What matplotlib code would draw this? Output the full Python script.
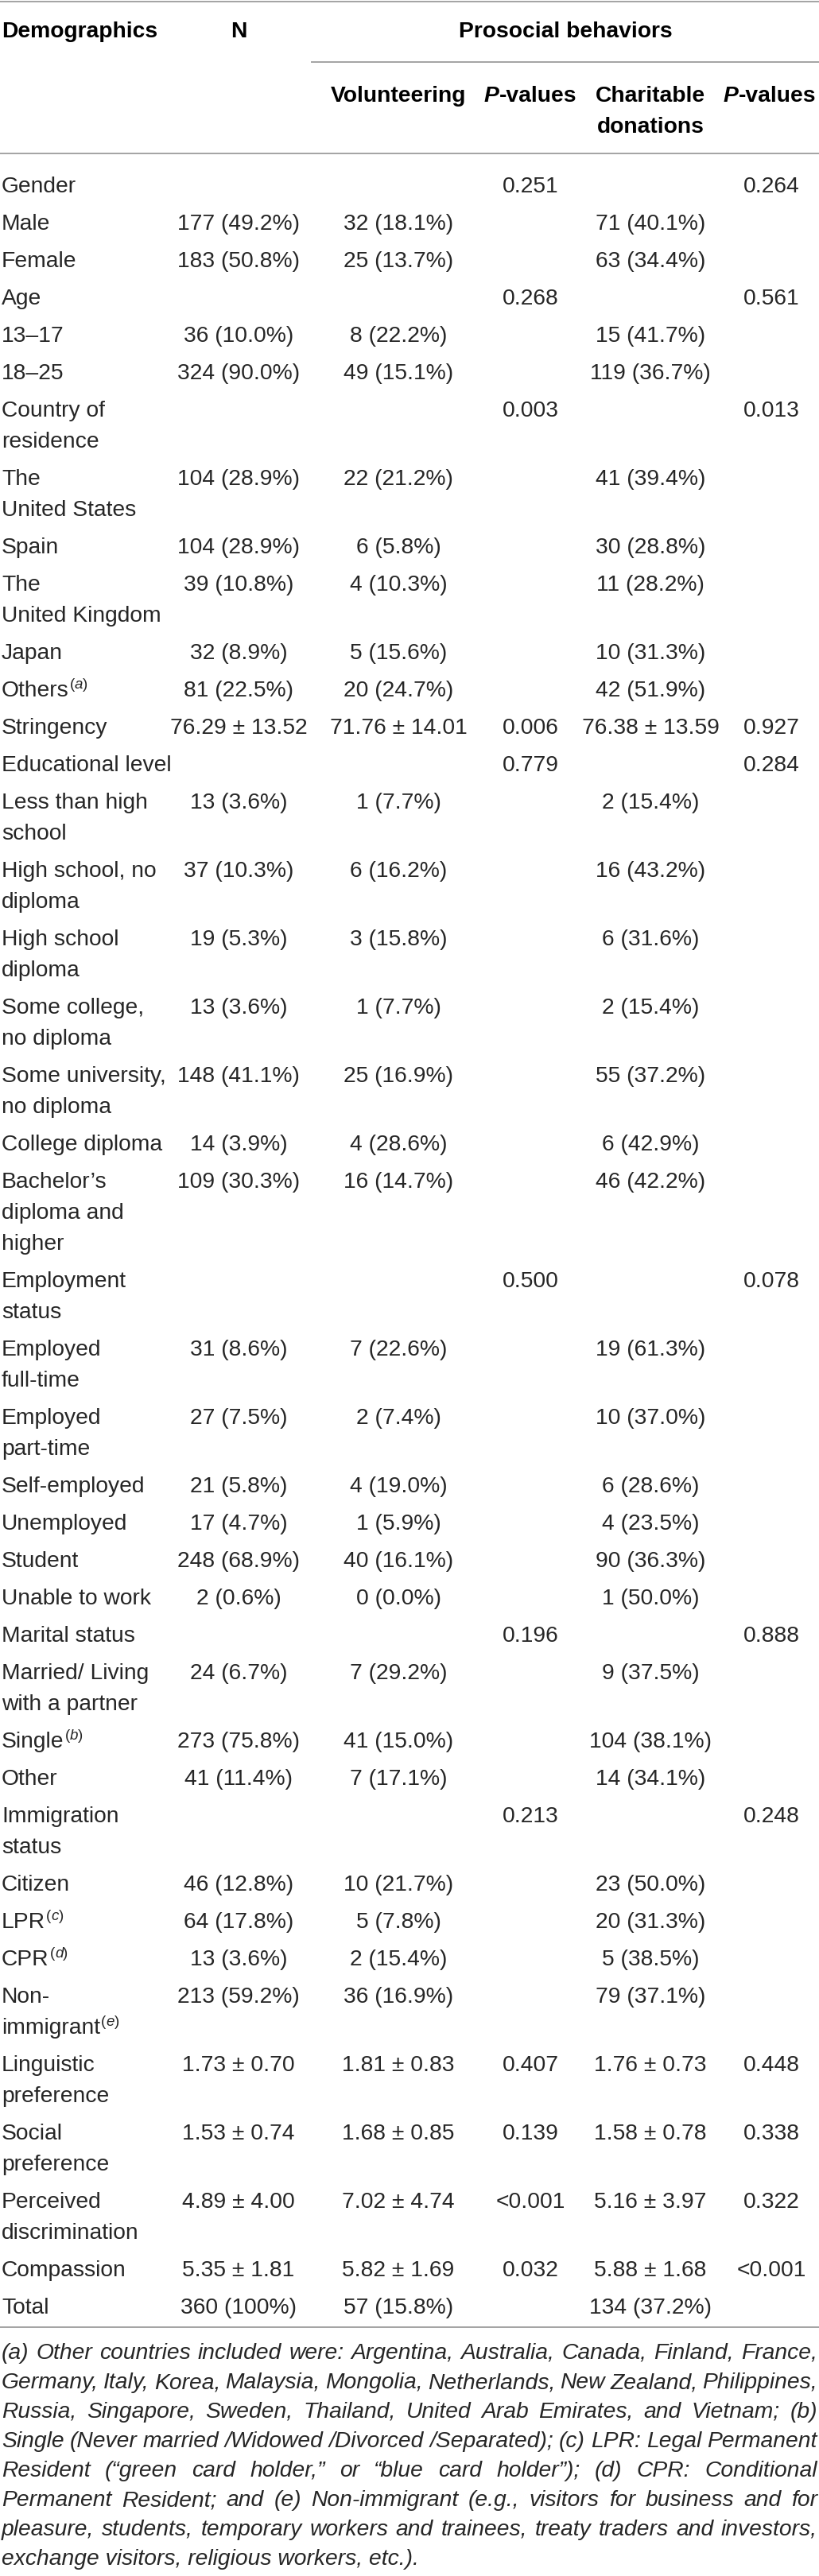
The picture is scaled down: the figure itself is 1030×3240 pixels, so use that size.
import matplotlib
matplotlib.use("Agg")
import matplotlib.pyplot as plt

plt.rcParams['font.family'] = ['Liberation Sans', 'DejaVu Sans']

# ---- table data ----
demographics = [
    "Gender", "Male", "Female", "Age", "13–17", "18–25",
    "Country of\nresidence", "The\nUnited States", "Spain", "The\nUnited Kingdom",
    "Japan", "Others", "Stringency", "Educational level",
    "Less than high\nschool", "High school, no\ndiploma", "High school\ndiploma",
    "Some college,\nno diploma", "Some university,\nno diploma", "College diploma",
    "Bachelor’s\ndiploma and\nhigher", "Employment\nstatus", "Employed\nfull-time",
    "Employed\npart-time", "Self-employed", "Unemployed", "Student", "Unable to work",
    "Marital status", "Married/ Living\nwith a partner", "Single", "Other",
    "Immigration\nstatus", "Citizen", "LPR", "CPR", "Non-\nimmigrant",
    "Linguistic\npreference", "Social\npreference", "Perceived\ndiscrimination",
    "Compassion", "Total",
]
note_marks = {"Others": "a", "Single": "b", "LPR": "c", "CPR": "d",
              "Non-\nimmigrant": "e"}
n_counts = [
    "", "177 (49.2%)", "183 (50.8%)", "", "36 (10.0%)", "324 (90.0%)",
    "", "104 (28.9%)", "104 (28.9%)", "39 (10.8%)", "32 (8.9%)", "81 (22.5%)",
    "76.29 ± 13.52", "", "13 (3.6%)", "37 (10.3%)", "19 (5.3%)", "13 (3.6%)",
    "148 (41.1%)", "14 (3.9%)", "109 (30.3%)", "", "31 (8.6%)", "27 (7.5%)",
    "21 (5.8%)", "17 (4.7%)", "248 (68.9%)", "2 (0.6%)", "", "24 (6.7%)",
    "273 (75.8%)", "41 (11.4%)", "", "46 (12.8%)", "64 (17.8%)", "13 (3.6%)",
    "213 (59.2%)", "1.73 ± 0.70", "1.53 ± 0.74", "4.89 ± 4.00", "5.35 ± 1.81",
    "360 (100%)",
]
volunteering = [
    "", "32 (18.1%)", "25 (13.7%)", "", "8 (22.2%)", "49 (15.1%)",
    "", "22 (21.2%)", "6 (5.8%)", "4 (10.3%)", "5 (15.6%)", "20 (24.7%)",
    "71.76 ± 14.01", "", "1 (7.7%)", "6 (16.2%)", "3 (15.8%)", "1 (7.7%)",
    "25 (16.9%)", "4 (28.6%)", "16 (14.7%)", "", "7 (22.6%)", "2 (7.4%)",
    "4 (19.0%)", "1 (5.9%)", "40 (16.1%)", "0 (0.0%)", "", "7 (29.2%)",
    "41 (15.0%)", "7 (17.1%)", "", "10 (21.7%)", "5 (7.8%)", "2 (15.4%)",
    "36 (16.9%)", "1.81 ± 0.83", "1.68 ± 0.85", "7.02 ± 4.74", "5.82 ± 1.69",
    "57 (15.8%)",
]
vol_pvalues = [
    "0.251", "", "", "0.268", "", "", "0.003", "", "", "", "", "",
    "0.006", "0.779", "", "", "", "", "", "", "", "0.500", "", "",
    "", "", "", "", "0.196", "", "", "", "0.213", "", "", "",
    "", "0.407", "0.139", "<0.001", "0.032", "",
]
donations = [
    "", "71 (40.1%)", "63 (34.4%)", "", "15 (41.7%)", "119 (36.7%)",
    "", "41 (39.4%)", "30 (28.8%)", "11 (28.2%)", "10 (31.3%)", "42 (51.9%)",
    "76.38 ± 13.59", "", "2 (15.4%)", "16 (43.2%)", "6 (31.6%)", "2 (15.4%)",
    "55 (37.2%)", "6 (42.9%)", "46 (42.2%)", "", "19 (61.3%)", "10 (37.0%)",
    "6 (28.6%)", "4 (23.5%)", "90 (36.3%)", "1 (50.0%)", "", "9 (37.5%)",
    "104 (38.1%)", "14 (34.1%)", "", "23 (50.0%)", "20 (31.3%)", "5 (38.5%)",
    "79 (37.1%)", "1.76 ± 0.73", "1.58 ± 0.78", "5.16 ± 3.97", "5.88 ± 1.68",
    "134 (37.2%)",
]
don_pvalues = [
    "0.264", "", "", "0.561", "", "", "0.013", "", "", "", "", "",
    "0.927", "0.284", "", "", "", "", "", "", "", "0.078", "", "",
    "", "", "", "", "0.888", "", "", "", "0.248", "", "", "",
    "", "0.448", "0.338", "0.322", "<0.001", "",
]
footnote_lines = [
    "(a) Other countries included were: Argentina, Australia, Canada, Finland, France,",
    "Germany, Italy, Korea, Malaysia, Mongolia, Netherlands, New Zealand, Philippines,",
    "Russia, Singapore, Sweden, Thailand, United Arab Emirates, and Vietnam; (b)",
    "Single (Never married /Widowed /Divorced /Separated); (c) LPR: Legal Permanent",
    "Resident (“green card holder,” or “blue card holder”); (d) CPR: Conditional",
    "Permanent Resident; and (e) Non-immigrant (e.g., visitors for business and for",
    "pleasure, students, temporary workers and trainees, treaty traders and investors,",
    "exchange visitors, religious workers, etc.).",
]

# ---- layout ----
W, H = 1030, 3240
FS = 20.3
TXT = '#262626'
RULE = '#a3a3a3'
col_x = [300, 501, 667, 818, 970]
first_row, row_step, line_step = 232, 47.0, 39
base_off = 10

fig = plt.figure(figsize=(W / 100, H / 100), dpi=100)
ax = fig.add_axes([0, 0, 1, 1])
ax.set_xlim(0, W)
ax.set_ylim(H, 0)
ax.axis('off')
renderer = fig.canvas.get_renderer()


def width_of(t):
    return t.get_window_extent(renderer=renderer).width


def segments(x, y, parts, ha='center', fs=FS):
    # draw text pieces with own styles side by side
    tmp = [ax.text(0, y, s, fontsize=fs, **kw) for s, kw in parts]
    ws = [width_of(t) for t in tmp]
    x0 = x - sum(ws) / 2 if ha == 'center' else x
    for t, w in zip(tmp, ws):
        t.set_x(x0)
        x0 += w


# rules
ax.plot([0, W], [2, 2], color=RULE, lw=1.4)
ax.plot([392, W], [78, 78], color=RULE, lw=1.4)
ax.plot([0, W], [193, 193], color=RULE, lw=1.4)
ax.plot([0, W], [2927, 2927], color=RULE, lw=1.4)

# header
hb = dict(fontsize=FS, fontweight='bold', color='black', va='baseline')
ax.text(2, 37 + base_off, "Demographics", ha='left', **hb)
ax.text(col_x[0], 37 + base_off, "N", ha='center', **hb)
ax.text(711, 37 + base_off, "Prosocial behaviors", ha='center', **hb)
ax.text(col_x[1], 118 + base_off, "Volunteering", ha='center', **hb)
ax.text(col_x[3], 118 + base_off, "Charitable", ha='center', **hb)
ax.text(col_x[3], 157 + base_off, "donations", ha='center', **hb)
pv_parts = [("P", dict(fontweight='bold', style='italic', color='black', va='baseline')),
            ("-values", dict(fontweight='bold', color='black', va='baseline'))]
segments(col_x[2], 118 + base_off, pv_parts)
segments(col_x[4] - 2, 118 + base_off, pv_parts)

# body
sup_up = dict(color=TXT, va='baseline')
sup_it = dict(color=TXT, va='baseline', style='italic')
y = first_row
for i, label in enumerate(demographics):
    yb = y + base_off
    lines = label.split('\n')
    for k, ln in enumerate(lines):
        t = ax.text(2, yb + line_step * k, ln, fontsize=FS, color=TXT,
                    ha='left', va='baseline')
    if label in note_marks:
        segments(2 + width_of(t) + 1, yb + line_step * (len(lines) - 1) - 10,
                 [("(", sup_up), (note_marks[label], sup_it), (")", sup_up)],
                 ha='left', fs=13.5)
    for cx, col in zip(col_x, [n_counts, volunteering, vol_pvalues, donations, don_pvalues]):
        if col[i]:
            ax.text(cx, yb, col[i], fontsize=FS, color=TXT, ha='center', va='baseline')
    y += row_step + line_step * (len(lines) - 1)

# footnote, justified
fy = 2957
for k, line in enumerate(footnote_lines):
    yb = fy + 37 * k + base_off
    words = line.split(' ')
    if k == len(footnote_lines) - 1:
        ax.text(2, yb, line, fontsize=FS, style='italic', color=TXT, ha='left', va='baseline')
        continue
    ts = [ax.text(0, yb, w, fontsize=FS, style='italic', color=TXT, ha='left', va='baseline')
          for w in words]
    ws = [width_of(t) for t in ts]
    gap = (W - 4 - sum(ws)) / (len(words) - 1)
    x = 2
    for t, w in zip(ts, ws):
        t.set_x(x)
        x += w + gap

fig.savefig('out.png', dpi=100)
